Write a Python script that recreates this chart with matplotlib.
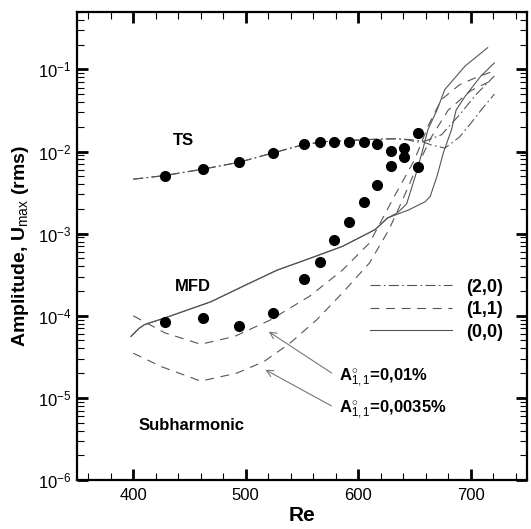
import matplotlib
matplotlib.use("Agg")
import matplotlib.pyplot as plt
from matplotlib.ticker import LogLocator, MultipleLocator, NullFormatter

plt.rcParams['font.family'] = ['Liberation Sans', 'DejaVu Sans']
plt.rcParams['mathtext.fontset'] = 'custom'
plt.rcParams['mathtext.rm'] = 'Liberation Sans'
plt.rcParams['mathtext.it'] = 'Liberation Sans:italic'
plt.rcParams['mathtext.bf'] = 'Liberation Sans:bold'

# experiment (dots)
exp_re = [428, 462, 494, 524, 552, 566, 578, 592, 605, 617, 629, 641, 653]
exp_ts = [5.1e-3, 6.15e-3, 7.4e-3, 9.6e-3, 1.22e-2, 1.31e-2, 1.31e-2, 1.30e-2,
          1.30e-2, 1.22e-2, 1.01e-2, 1.11e-2, 1.69e-2]
exp_mfd = [8.4e-5, 9.4e-5, 7.55e-5, 1.08e-4, 2.83e-4, 4.56e-4, 8.45e-4, 1.37e-3,
           2.45e-3, 3.88e-3, 6.6e-3, 8.6e-3, 6.56e-3]

# (2,0) TS mode, two forcing amplitudes
ts1_re = [400, 428, 462, 494, 524, 552, 570, 600, 620, 635, 645, 655, 665, 677, 690, 700, 710, 721]
ts1_amp = [4.6e-3, 5.1e-3, 6.1e-3, 7.4e-3, 9.6e-3, 1.22e-2, 1.32e-2, 1.38e-2, 1.42e-2,
           1.43e-2, 1.40e-2, 1.35e-2, 1.2e-2, 1.1e-2, 1.5e-2, 2.2e-2, 3.3e-2, 5.0e-2]
ts2_re = [400, 428, 462, 494, 524, 552, 570, 600, 620, 635, 645, 652, 660, 674, 690, 705, 721]
ts2_amp = [4.6e-3, 5.1e-3, 6.1e-3, 7.4e-3, 9.6e-3, 1.22e-2, 1.32e-2, 1.38e-2, 1.42e-2,
           1.43e-2, 1.38e-2, 1.30e-2, 1.35e-2, 1.6e-2, 2.8e-2, 5.0e-2, 8.3e-2]

# (1,1) subharmonic, A=0.01% and A=0.0035%
sh1_re = [400, 428, 460, 490, 522, 557, 586, 610, 633, 650, 662, 674, 690, 705, 720]
sh1_amp = [1e-4, 6.2e-5, 4.5e-5, 5.6e-5, 8.9e-5, 1.74e-4, 3.6e-4, 7.7e-4, 3.0e-3,
           7.9e-3, 2.04e-2, 4.3e-2, 6.5e-2, 8.0e-2, 9.5e-2]
sh2_re = [400, 425, 460, 492, 516, 539, 563, 586, 610, 627, 639, 651, 665, 680, 700, 720]
sh2_amp = [3.5e-5, 2.4e-5, 1.6e-5, 2e-5, 2.76e-5, 4.6e-5, 8.9e-5, 1.9e-4, 4.4e-4,
           1.1e-3, 2.5e-3, 6e-3, 1.5e-2, 3.2e-2, 5.5e-2, 7.5e-2]

# (0,0) mean flow distortion
mfd1_re = [398, 405, 410, 428, 469, 498, 528, 557, 586, 615, 626, 635, 643, 650.7,
           656.6, 662, 670, 677, 695, 715]
mfd1_amp = [5.6e-5, 7e-5, 7.8e-5, 9.4e-5, 1.48e-4, 2.3e-4, 3.6e-4, 5.0e-4, 7e-4,
            1.12e-3, 1.55e-3, 1.8e-3, 2.3e-3, 5e-3, 9.6e-3, 1.86e-2, 3.2e-2, 5.7e-2,
            0.11, 0.184]
mfd2_re = [398, 405, 410, 428, 469, 498, 528, 557, 586, 615, 626, 645, 659.5, 664,
           670, 675.6, 683, 687, 695, 709, 721]
mfd2_amp = [5.6e-5, 7e-5, 7.8e-5, 9.4e-5, 1.48e-4, 2.3e-4, 3.6e-4, 5.0e-4, 7e-4,
            1.12e-3, 1.55e-3, 1.95e-3, 2.45e-3, 2.85e-3, 5e-3, 9.6e-3, 1.86e-2,
            3.2e-2, 4.7e-2, 8.3e-2, 0.12]

lc = '#555555'
fig = plt.figure(figsize=(5.31, 5.29), dpi=100)
ax = fig.add_axes([77/531, 1 - 480/529, 450/531, 468/529])

dd = (0, (9, 3, 1.5, 3))
ax.semilogy(ts1_re, ts1_amp, color=lc, lw=0.8, ls=dd, label='(2,0)')
ax.semilogy(ts2_re, ts2_amp, color=lc, lw=0.8, ls=dd)
ax.semilogy(sh1_re, sh1_amp, color=lc, lw=0.8, ls=(0, (8, 6)), label='(1,1)')
ax.semilogy(sh2_re, sh2_amp, color=lc, lw=0.8, ls=(0, (8, 6)))
ax.semilogy(mfd1_re, mfd1_amp, color=lc, lw=0.8, label='(0,0)')
ax.semilogy(mfd2_re, mfd2_amp, color=lc, lw=0.8)
ax.semilogy(exp_re, exp_ts, 'o', color='black', ms=7, zorder=5)
ax.semilogy(exp_re, exp_mfd, 'o', color='black', ms=7, zorder=5)

ax.set_xlim(350, 750)
ax.set_ylim(1e-6, 0.5)
ax.xaxis.set_major_locator(MultipleLocator(100))
ax.xaxis.set_minor_locator(MultipleLocator(20))
ax.yaxis.set_major_locator(LogLocator(base=10, numticks=20))
ax.yaxis.set_minor_locator(LogLocator(base=10, subs=range(2, 10), numticks=20))
ax.yaxis.set_minor_formatter(NullFormatter())
ax.tick_params(which='both', direction='in', top=True, right=True, labelsize=12)
ax.tick_params(which='major', length=8, width=2)
ax.tick_params(which='minor', length=5, width=0.8)
ax.tick_params(axis='x', pad=6)
ax.tick_params(axis='y', pad=4)
for s in ax.spines.values():
    s.set_linewidth(1.6)

ax.set_xlabel('Re', fontsize=15, fontweight='bold', labelpad=2)
ax.set_ylabel(r'Amplitude, U$_{\mathrm{max}}$ (rms)', fontsize=14, fontweight='bold', labelpad=5)

ax.text(445, 0.0136, 'TS', fontsize=12, fontweight='bold', ha='center', va='center')
ax.text(453, 2.26e-4, 'MFD', fontsize=12, fontweight='bold', ha='center', va='center')
ax.text(452, 4.6e-6, 'Subharmonic', fontsize=12, fontweight='bold', ha='center', va='center')

arrow = dict(arrowstyle='->', color='#777777', lw=0.8, shrinkA=4, shrinkB=0,
             relpos=(0, 0.5))
ax.annotate(r'A$^{\circ}_{1,1}$=0,01%', xy=(520.4, 6.4e-5), xytext=(583, 1.75e-5),
            fontsize=12, fontweight='bold', ha='left', va='center', arrowprops=arrow)
ax.annotate(r'A$^{\circ}_{1,1}$=0,0035%', xy=(517.4, 2.2e-5), xytext=(583, 7.1e-6),
            fontsize=12, fontweight='bold', ha='left', va='center', arrowprops=arrow)

leg = ax.legend(loc='upper left', bbox_to_anchor=(0.652, 0.43), frameon=False,
                handlelength=4.5, handletextpad=0.8, labelspacing=0.3,
                borderpad=0, borderaxespad=0,
                prop={'weight': 'bold', 'size': 13})

fig.savefig('out.png', dpi=100)
